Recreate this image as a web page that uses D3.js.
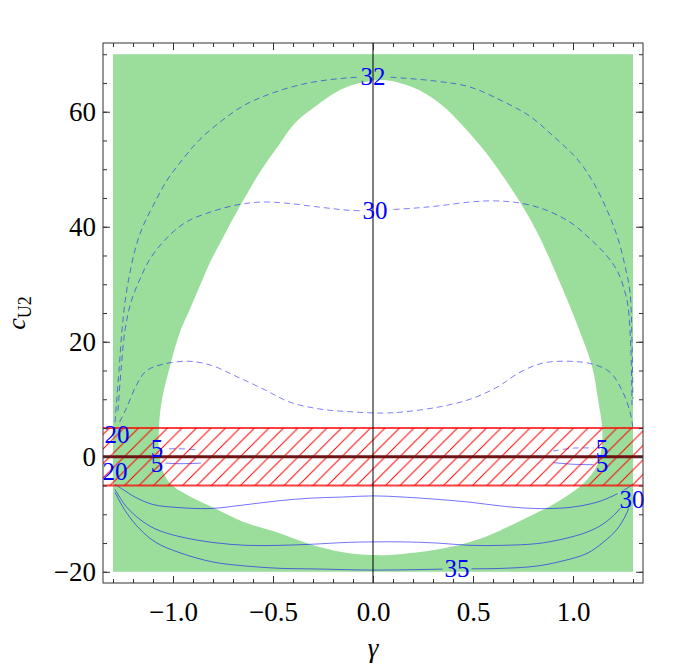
<!DOCTYPE html>
<html>
<head>
<meta charset="utf-8">
<script src="https://cdn.jsdelivr.net/npm/d3@7"></script>
<style>
  body { margin: 0; background: #fff; }
  text { font-family: 'Liberation Serif', 'DejaVu Serif', serif; }
</style>
</head>
<body>
<div id="show-graph"></div>
<script>
// white region inside the green box, [gamma, cU2]
var holeEdge = [[0.05, 65.5], [0.15, 64.8], [0.25, 63.4], [0.35, 61.0], [0.45, 57.5], [0.55, 53.5],
  [0.65, 48.8], [0.735, 44.3], [0.82, 39.1], [0.9, 33.1], [0.97, 27.4], [1.035, 21.7], [1.095, 15.8],
  [1.125, 10.0], [1.145, 5.3], [1.145, 2.0], [1.12, -1.5], [1.05, -4.7], [0.92, -7.9], [0.75, -10.9],
  [0.57, -13.8], [0.385, -15.7], [0.15, -16.9], [0, -17.1], [-0.15, -16.6], [-0.315, -15.2],
  [-0.485, -13.1], [-0.65, -11.3], [-0.8, -8.8], [-0.915, -6.9], [-1.01, -4.8], [-1.05, -2.5],
  [-1.07, 1.0], [-1.07, 5.3], [-1.055, 10.0], [-1.015, 15.8], [-0.965, 21.7], [-0.915, 25.7],
  [-0.872, 29.2], [-0.815, 33.8], [-0.735, 39.1], [-0.665, 43.6], [-0.565, 49.5], [-0.485, 53.5],
  [-0.385, 58.2], [-0.285, 61.0], [-0.185, 63.4], [-0.085, 64.8]]

// green box
var boxG = [-1.3, 1.3]
var boxC = [-20, 70]

// dashed contours
var contour32 = [[-1.29, 6], [-1.27, 15], [-1.255, 22], [-1.24, 26.9], [-1.215, 32.1], [-1.185, 36.6],
  [-1.15, 40.1], [-1.1, 43.6], [-1.035, 47.8], [-0.95, 51.8], [-0.865, 55.2], [-0.765, 58.2],
  [-0.65, 61.0], [-0.515, 63.1], [-0.35, 64.8], [-0.185, 65.7], [0, 66.1], [0.085, 66.0], [0.32, 65.3],
  [0.485, 64.3], [0.65, 61.8], [0.785, 59.2], [0.9, 55.8], [1.02, 51.8], [1.1, 47.8], [1.175, 42.5],
  [1.225, 37.9], [1.26, 33.2], [1.285, 28.6], [1.295, 20], [1.3, 10]]
var contour30 = [[-1.275, 8], [-1.26, 15], [-1.24, 22], [-1.21, 26.9], [-1.165, 30.9], [-1.115, 34.4],
  [-1.035, 37.9], [-0.935, 40.8], [-0.8, 42.7], [-0.665, 43.9], [-0.55, 44.3], [-0.435, 44.1],
  [-0.265, 43.4], [-0.085, 42.8], [0.15, 43.1], [0.32, 43.6], [0.485, 44.3], [0.6, 44.5], [0.72, 44.2],
  [0.85, 43.1], [0.985, 40.8], [1.085, 37.9], [1.17, 34.9], [1.225, 32.1], [1.26, 28.6], [1.275, 26.2],
  [1.29, 18], [1.295, 9]]
var contour20 = [[-1.29, 4.5], [-1.235, 8.3], [-1.185, 12.3], [-1.135, 14.9], [-1.05, 16.1],
  [-0.915, 16.6], [-0.8, 15.8], [-0.685, 14.0], [-0.55, 11.8], [-0.415, 9.5], [-0.265, 8.3],
  [-0.1, 7.8], [0.05, 7.6], [0.15, 7.8], [0.32, 8.6], [0.485, 10.0], [0.62, 12.1], [0.735, 14.7],
  [0.85, 16.3], [0.985, 16.6], [1.1, 16.1], [1.185, 14.7], [1.25, 11.2], [1.285, 7.8], [1.3, 5]]
var contour5UpL = [[-1.07, 1.3], [-0.98, 1.4], [-0.87, 1.2]]
var contour5UpR = [[0.9, 1.0], [1.0, 1.5], [1.13, 1.5]]

// solid contours
var contourIn = [[-1.29, -4.8], [-1.25, -5.7], [-1.185, -7.1], [-1.1, -8.3], [-0.985, -8.8],
  [-0.815, -9.0], [-0.65, -8.4], [-0.485, -7.7], [-0.315, -7.2], [-0.15, -7.0], [0, -6.8],
  [0.15, -7.0], [0.32, -7.4], [0.485, -7.9], [0.65, -8.6], [0.82, -9.0], [0.985, -8.8], [1.12, -7.9],
  [1.2, -6.8], [1.26, -5.7], [1.3, -4.8]]
var contourMid = [[-1.29, -5.7], [-1.235, -8.6], [-1.165, -10.9], [-1.085, -12.6], [-0.965, -13.9],
  [-0.8, -14.9], [-0.635, -15.4], [-0.465, -15.4], [-0.3, -15.2], [-0.135, -14.9], [0, -14.8],
  [0.15, -14.8], [0.32, -15.0], [0.485, -15.4], [0.65, -15.4], [0.82, -15.1], [0.95, -14.3],
  [1.07, -13.1], [1.15, -11.7], [1.22, -9.6], [1.27, -7.4], [1.3, -5.7]]
var contourOut = [[-1.29, -6.2], [-1.235, -9.6], [-1.165, -12.6], [-1.085, -14.9], [-0.965, -16.7],
  [-0.8, -18.3], [-0.635, -19.0], [-0.465, -19.4], [-0.3, -19.5], [0, -19.7], [0.42, -19.5],
  [0.65, -19.4], [0.82, -19.0], [0.95, -18.1], [1.07, -16.8], [1.15, -14.9], [1.22, -12.6],
  [1.27, -9.7], [1.3, -6.2]]
var contour5LoL = [[-1.08, -1.0], [-0.97, -1.2], [-0.86, -1.1]]
var contour5LoR = [[0.9, -1.0], [1.0, -1.3], [1.14, -1.4]]

// contour labels
var labelText = ['32', '30', '20', '20', '5', '5', '5', '5', '30', '35']
var labelG = [0, 0.01, -1.28, -1.29, -1.08, -1.08, 1.145, 1.145, 1.295, 0.42]
var labelC = [66.1, 42.8, 3.9, -2.5, 1.5, -1.1, 1.5, -1.2, -7.4, -19.5]

// hatched band and axis ticks
var bandC = [-5, 5]
var xTicks = [-1.0, -0.5, 0.0, 0.5, 1.0]
var yTicks = [-20, 0, 20, 40, 60]

var margin = { top: 43, right: 45, bottom: 84, left: 103 }
var width = 688 - margin.left - margin.right
var height = 667 - margin.top - margin.bottom

var svg = d3.select('#show-graph')
  .append('svg')
  .attr('width', 688)
  .attr('height', 667)
  .append('g')
  .attr('transform', 'translate(' + margin.left + ',' + margin.top + ')')

var x = d3.scaleLinear().domain([-1.35, 1.35]).range([0, width])
var y = d3.scaleLinear().domain([-21.95, 71.95]).range([height, 0])

var defs = svg.append('defs')
defs.append('clipPath').attr('id', 'frame')
  .append('rect').attr('width', width).attr('height', height)

// hatch pattern for the band
var hs = 14.5
var pat = defs.append('pattern')
  .attr('id', 'hatch')
  .attr('patternUnits', 'userSpaceOnUse')
  .attr('width', hs).attr('height', hs)
pat.append('path')
  .attr('d', 'M0,' + hs + 'L' + hs + ',0M-2,2L2,-2M' + (hs - 2) + ',' + (hs + 2) + 'L' + (hs + 2) + ',' + (hs - 2))
  .attr('stroke', '#ff0000')
  .attr('stroke-width', 1)

// gaps in contour lines under the labels
var mask = defs.append('mask').attr('id', 'labelgap')
mask.append('rect').attr('x', -50).attr('y', -50).attr('width', width + 100).attr('height', height + 100).attr('fill', '#fff')
labelText.forEach(function (t, i) {
  var w = t.length * 12.5 + 4
  mask.append('rect')
    .attr('x', x(labelG[i]) - w / 2).attr('y', y(labelC[i]) - 9)
    .attr('width', w).attr('height', 18)
    .attr('fill', '#000')
})

// green region with white hole
svg.append('rect')
  .attr('x', x(boxG[0])).attr('y', y(boxC[1]))
  .attr('width', x(boxG[1]) - x(boxG[0]))
  .attr('height', y(boxC[0]) - y(boxC[1]))
  .attr('fill', '#9bdd9b')

svg.append('path')
  .datum(holeEdge)
  .attr('d', d3.line()
    .x(function (d) { return x(d[0]) })
    .y(function (d) { return y(d[1]) })
    .curve(d3.curveCatmullRomClosed))
  .attr('fill', '#fff')

// contour lines
var cline = d3.line()
  .x(function (d) { return x(d[0]) })
  .y(function (d) { return y(d[1]) })
  .curve(d3.curveCatmullRom)

var cg = svg.append('g').attr('mask', 'url(#labelgap)').attr('clip-path', 'url(#frame)')
var dashed = [contour32, contour30, contour20, contour5UpL, contour5UpR]
var solid = [contourIn, contourMid, contourOut, contour5LoL, contour5LoR]

cg.selectAll('.dash')
  .data(dashed)
  .enter()
  .append('path')
  .attr('d', cline)
  .attr('fill', 'none')
  .attr('stroke', '#0000ff')
  .attr('stroke-opacity', 0.5)
  .attr('stroke-width', 1)
  .attr('stroke-dasharray', '6,4')

cg.selectAll('.solid')
  .data(solid)
  .enter()
  .append('path')
  .attr('d', cline)
  .attr('fill', 'none')
  .attr('stroke', '#0000ff')
  .attr('stroke-opacity', 0.55)
  .attr('stroke-width', 1)

// hatched band
svg.append('rect')
  .attr('x', 0).attr('y', y(bandC[1]))
  .attr('width', width)
  .attr('height', y(bandC[0]) - y(bandC[1]))
  .attr('fill', 'url(#hatch)')

bandC.forEach(function (c) {
  svg.append('line')
    .attr('x1', 0).attr('x2', width)
    .attr('y1', y(c)).attr('y2', y(c))
    .attr('stroke', '#ff0000')
    .attr('stroke-opacity', 0.75)
    .attr('stroke-width', 2)
})

svg.append('line')
  .attr('x1', 0).attr('x2', width)
  .attr('y1', y(0)).attr('y2', y(0))
  .attr('stroke', '#6e1414')
  .attr('stroke-width', 3)

// vertical line at gamma = 0
svg.append('line')
  .attr('x1', x(0)).attr('x2', x(0))
  .attr('y1', 0).attr('y2', height)
  .attr('stroke', '#000')
  .attr('stroke-width', 1)

// contour labels
svg.selectAll('.clabel')
  .data(labelText)
  .enter()
  .append('text')
  .attr('x', function (d, i) { return x(labelG[i]) })
  .attr('y', function (d, i) { return y(labelC[i]) + 8.5 })
  .attr('text-anchor', 'middle')
  .attr('fill', '#0000ff')
  .style('font-size', '25px')
  .text(function (d) { return d })

// frame with inward ticks on all sides
var fmt = d3.format('.1f')
var minorX = d3.range(-13, 14).map(function (d) { return d / 10 })
var minorY = d3.range(-20, 71, 5)

svg.append('g')
  .attr('transform', 'translate(0,' + height + ')')
  .call(d3.axisBottom(x).tickValues(minorX).tickSize(-4).tickFormat(''))
svg.append('g')
  .attr('transform', 'translate(0,' + height + ')')
  .call(d3.axisBottom(x).tickValues(xTicks).tickSize(-7).tickPadding(19)
    .tickFormat(function (d) { return fmt(d).replace('-', '\u2212') }))
svg.append('g')
  .call(d3.axisTop(x).tickValues(minorX).tickSize(-4).tickFormat(''))
svg.append('g')
  .call(d3.axisTop(x).tickValues(xTicks).tickSize(-7).tickFormat(''))

svg.append('g')
  .call(d3.axisLeft(y).tickValues(minorY).tickSize(-4).tickFormat(''))
svg.append('g')
  .call(d3.axisLeft(y).tickValues(yTicks).tickSize(-7).tickPadding(7)
    .tickFormat(function (d) { return String(d).replace('-', '\u2212') }))
svg.append('g')
  .attr('transform', 'translate(' + width + ',0)')
  .call(d3.axisRight(y).tickValues(minorY).tickSize(-4).tickFormat(''))
svg.append('g')
  .attr('transform', 'translate(' + width + ',0)')
  .call(d3.axisRight(y).tickValues(yTicks).tickSize(-7).tickFormat(''))

svg.selectAll('.domain').remove()
svg.selectAll('.tick line').attr('stroke', '#333')
svg.selectAll('.tick text')
  .attr('fill', '#000')
  .style('font-family', "'Liberation Serif', serif")
  .style('font-size', '27px')

svg.append('rect')
  .attr('width', width).attr('height', height)
  .attr('fill', 'none')
  .attr('stroke', '#333')
  .attr('stroke-width', 1)

// axis labels
svg.append('text')
  .attr('x', x(0))
  .attr('y', 614)
  .attr('text-anchor', 'middle')
  .style('font-size', '27px')
  .style('font-style', 'italic')
  .text('\u03b3')

var yl = svg.append('text')
  .attr('transform', 'translate(' + (25 - margin.left) + ',' + (height / 2) + ') rotate(-90)')
  .attr('text-anchor', 'middle')
  .style('font-size', '26px')
yl.append('tspan').style('font-style', 'italic').text('c')
yl.append('tspan').attr('dy', 6).style('font-size', '18px').text('U2')
</script>
</body>
</html>
